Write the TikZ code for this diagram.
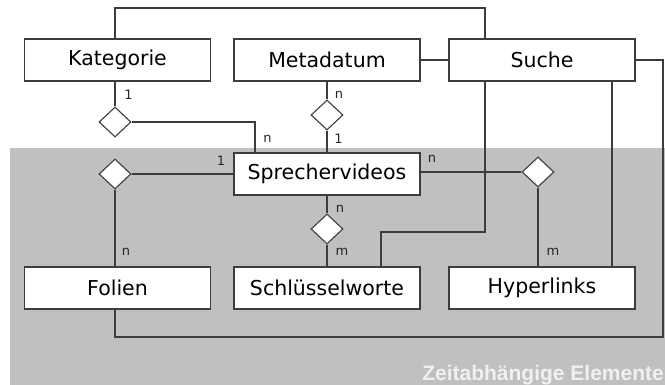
\documentclass[tikz,border=0pt]{standalone}
\usepackage{fontspec}
\setmainfont{DejaVu Sans}
\newfontfamily\areafont{Liberation Sans}
\usetikzlibrary{shapes.geometric, positioning, calc}
\definecolor{areagray}{RGB}{192,192,192}
\definecolor{linegray}{RGB}{60,60,60}

\begin{document}
\begin{tikzpicture}[x=1pt, y=-1pt,
	entity/.style={draw=linegray, line width=1.1pt, fill=white, minimum width=186pt, minimum height=42pt, inner sep=0pt, font=\fontsize{20.5}{24}\selectfont},
	relation/.style={draw=linegray, line width=1.1pt, fill=white, diamond, minimum width=32pt, minimum height=30pt, inner sep=0pt},
	card/.style={inner sep=0pt, font=\fontsize{13}{15}\selectfont, text=black!85},
	conn/.style={draw=linegray, line width=1.1pt}]
	\useasboundingbox (0,0) rectangle (665,385);
	\fill[areagray] (10,148) rectangle (665,385);
	\node[anchor=base east, inner sep=0pt, text=white!94!black, font=\areafont\bfseries\fontsize{21}{24}\selectfont] (zeit) at (664,381) {Zeitabhängige Elemente};

	\node[entity] (kat) at (117.5,60) {Kategorie};
	\node[entity] (meta) at (327,60) {Metadatum};
	\node[entity] (suche) at (542,60) {Suche};
	\node[entity] (sprech) at (327,174) {Sprechervideos};
	\node[entity] (folien) at (117.5,288) {Folien};
	\node[entity] (schl) at (327,288) {Schlüsselworte};
	\node[entity] (hyp) at (542,288) {Hyperlinks};

	\node[relation] (dkat) at (115,122) {};
	\node[relation] (dmeta) at (327,115) {};
	\node[relation] (dfol) at (115,174) {};
	\node[relation] (dschl) at (327,229) {};
	\node[relation] (dhyp) at (538,172) {};

	\coordinate (topbend) at (485,8);
	\coordinate (rbend) at (663,337);
	\coordinate (sbend) at (485,232);
	\coordinate (sbendb) at (381,232);
	\coordinate (hx) at (612,0);
	\coordinate (kx) at (255,0);

	% Suche
	\draw[conn] (kat.north -| dkat) |- (topbend) -- (topbend |- suche.north);
	\draw[conn] (meta.east) -- (suche.west);
	\draw[conn] (suche.east) -| (rbend) -| (folien.south -| dfol);
	\draw[conn] (suche.south -| sbend) -- (sbend) -- (sbendb) -- (sbendb |- schl.north);
	\draw[conn] (suche.south -| hx) -- (hyp.north -| hx);

	% relations
	\draw[conn] (kat.south -| dkat) -- (dkat.north);
	\draw[conn] (dkat.east) -| (sprech.north -| kx);
	\draw[conn] (meta.south) -- (dmeta.north);
	\draw[conn] (dmeta.south) -- (sprech.north);
	\draw[conn] (dfol.east) -- (sprech.west |- dfol);
	\draw[conn] (dfol.south) -- (folien.north -| dfol);
	\draw[conn] (sprech.south) -- (dschl.north);
	\draw[conn] (dschl.south) -- (schl.north);
	\draw[conn] (sprech.east |- dhyp) -- (dhyp.west);
	\draw[conn] (dhyp.south) -- (hyp.north -| dhyp);

	\node[card] (ck1) at (128.5,95) {1};
	\node[card] (ck2) at (267.5,139) {n};
	\node[card] (cm1) at (339,95) {n};
	\node[card] (cm2) at (338.5,139) {1};
	\node[card] (cf1) at (221,161) {1};
	\node[card] (cf2) at (126,252) {n};
	\node[card] (cs1) at (340,209) {n};
	\node[card] (cs2) at (342,252) {m};
	\node[card] (ch1) at (432,159) {n};
	\node[card] (ch2) at (553,252) {m};
\end{tikzpicture}
\end{document}
